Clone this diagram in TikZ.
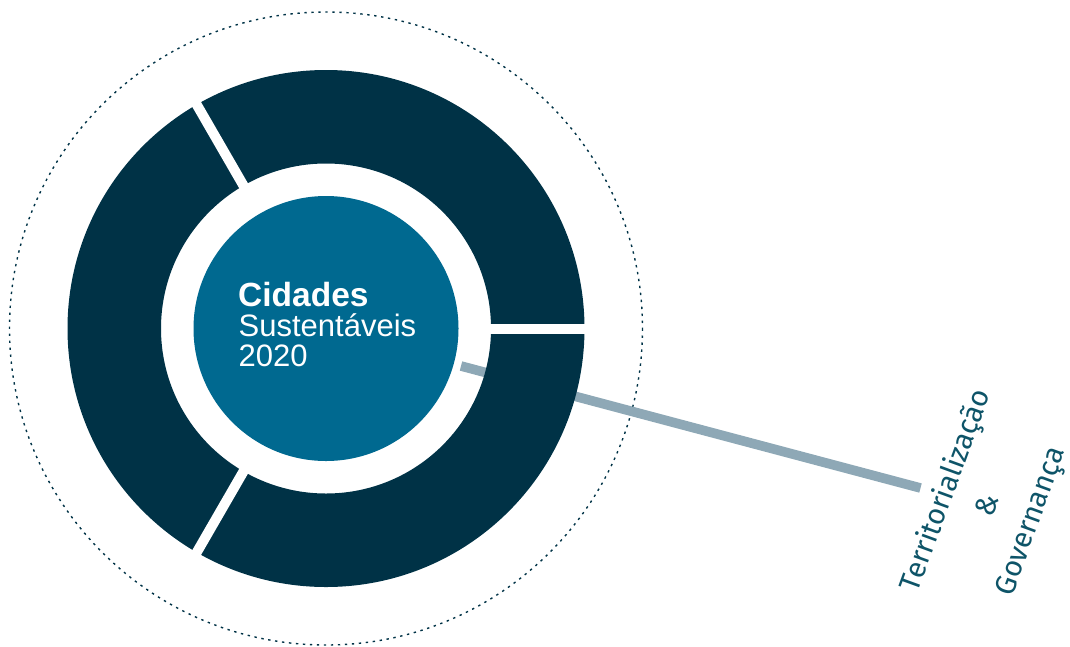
\documentclass[tikz,border=0pt]{standalone}
\usepackage{fontspec}
\usetikzlibrary{calc}
\setmainfont{Liberation Sans}
\newfontfamily\labelfont{Fira Sans}
\definecolor{navy}{HTML}{003246}
\definecolor{coreblue}{HTML}{006990}
\definecolor{linkgray}{HTML}{8EA8B6}
\definecolor{tealtext}{HTML}{0E5468}
\tikzset{
  dotring/.style={draw=navy, line width=1.4pt, dash pattern=on 2.4pt off 4.6pt},
  ringfill/.style={fill=navy, even odd rule},
  gapline/.style={draw=white, line width=10pt},
  link/.style={draw=linkgray, line width=9.6pt},
  core/.style={fill=coreblue},
  title/.style={anchor=base west, text=white, inner sep=0pt},
  theme/.style={text=tealtext, rotate=70, align=center, inner sep=0pt,
    font=\labelfont\fontsize{29}{45}\selectfont}
}
\begin{document}
\begin{tikzpicture}[x=1pt,y=-1pt]
\useasboundingbox (0,0) rectangle (1070,646);
\coordinate (c) at (326,328.5);
% outer dotted circle
\draw[dotring] (c) circle[radius=316.5];
% connector behind ring
\coordinate (ls) at (461,366);
\coordinate (le) at (920.5,488);
\draw[link] (ls) -- (le);
% ring
\fill[ringfill] (c) circle[radius=258.5] (c) circle[radius=165];
% gaps
\draw[gapline] ($(c)+(0:160)$) -- ($(c)+(0:265)$);
\draw[gapline] ($(c)+(120:160)$) -- ($(c)+(120:265)$);
\draw[gapline] ($(c)+(240:160)$) -- ($(c)+(240:265)$);
% core
\fill[core] (c) circle[radius=132.5];
\node[title, font=\bfseries\fontsize{33.5}{33.5}\selectfont] (t1) at (238,306.5) {Cidades};
\node[title, font=\fontsize{31}{31}\selectfont] (t2) at (238.5,336.7) {Sustentáveis};
\node[title, font=\fontsize{31}{31}\selectfont] (t3) at (238.5,366.5) {2020};
% rotated label
\node[theme] (lab) at (989,506) {Territorialização\\\&\\Governança};
\end{tikzpicture}
\end{document}
